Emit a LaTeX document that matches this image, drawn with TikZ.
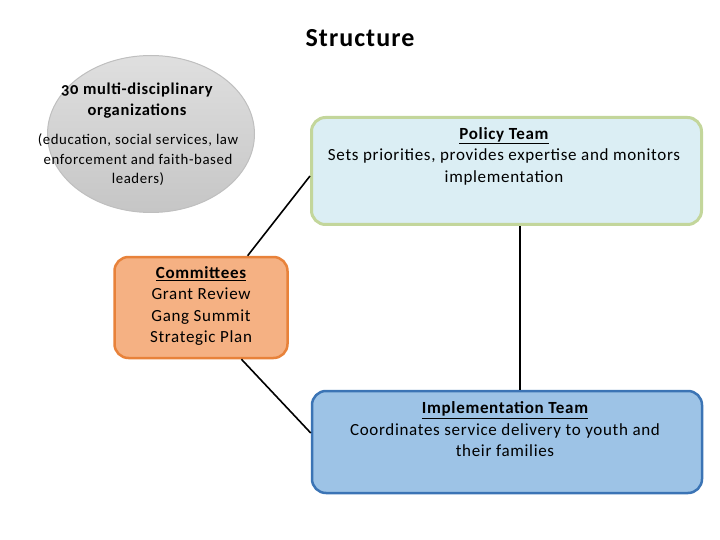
\documentclass[tikz,border=0pt]{standalone}
\usepackage{fontspec}
\setmainfont{Carlito}[LetterSpace=4,Numbers=OldStyle]
\usetikzlibrary{shapes.geometric}

\definecolor{orgsline}{HTML}{BFBFBF}
\definecolor{policyfill}{HTML}{DBEEF4}
\definecolor{policyline}{HTML}{C3D69B}
\definecolor{commfill}{HTML}{F5B183}
\definecolor{commline}{HTML}{E8823A}
\definecolor{implfill}{HTML}{9DC3E6}
\definecolor{implline}{HTML}{3B74B5}

\begin{document}
\begin{tikzpicture}[x=1pt,y=-1pt,
    box/.style={rectangle, rounded corners=14pt, inner sep=0pt},
    boxtext/.style={align=center, font=\fontsize{17}{21.5}\selectfont}]
    \useasboundingbox (0,0) rectangle (720,540);

    \node (title) at (360,38) {\fontsize{26}{30}\selectfont\bfseries Structure};

    % organizations
    \node (orgs) at (151,134) [ellipse, draw=orgsline, line width=1pt, top color=gray!25, bottom color=gray!45,
        minimum width=207pt, minimum height=157pt, inner sep=0pt] {};
    \node (orgsname) at (137,101) [align=center, font=\fontsize{16.5}{21}\selectfont\bfseries]
        {30 multi-disciplinary\\organizations};
    \node (orgsnote) at (138,160) [align=center, font=\fontsize{14.8}{19.5}\selectfont]
        {(education, social services, law\\enforcement and faith-based\\leaders)};

    % teams
    \node (policy) at (506.5,171) [box, draw=policyline, fill=policyfill, line width=3pt,
        minimum width=390pt, minimum height=107pt] {};
    \node (policytext) at (504,156) [boxtext]
        {\textbf{\underline{Policy Team}}\\Sets priorities, provides expertise and monitors\\implementation};

    \node (comm) at (201,307.5) [box, draw=commline, fill=commfill, line width=2.5pt,
        minimum width=173pt, minimum height=101pt] {};
    \node (commtext) at (201,306) [boxtext]
        {\textbf{\underline{Committees}}\\Grant Review\\Gang Summit\\Strategic Plan};

    \node (impl) at (507,442) [box, draw=implline, fill=implfill, line width=2.5pt,
        minimum width=390pt, minimum height=102pt] {};
    \node (impltext) at (505,429.5) [boxtext]
        {\textbf{\underline{Implementation Team}}\\Coordinates service delivery to youth and\\their families};

    % connectors
    \coordinate (v) at (520,0);
    \draw[black, line width=1.6pt] (comm.48) -- ([yshift=-5pt]policy.west);
    \draw[black, line width=1.6pt] (comm.-52) -- ([yshift=9pt]impl.west);
    \draw[black, line width=1.6pt] (policy.south -| v) -- (impl.north -| v);
\end{tikzpicture}
\end{document}
